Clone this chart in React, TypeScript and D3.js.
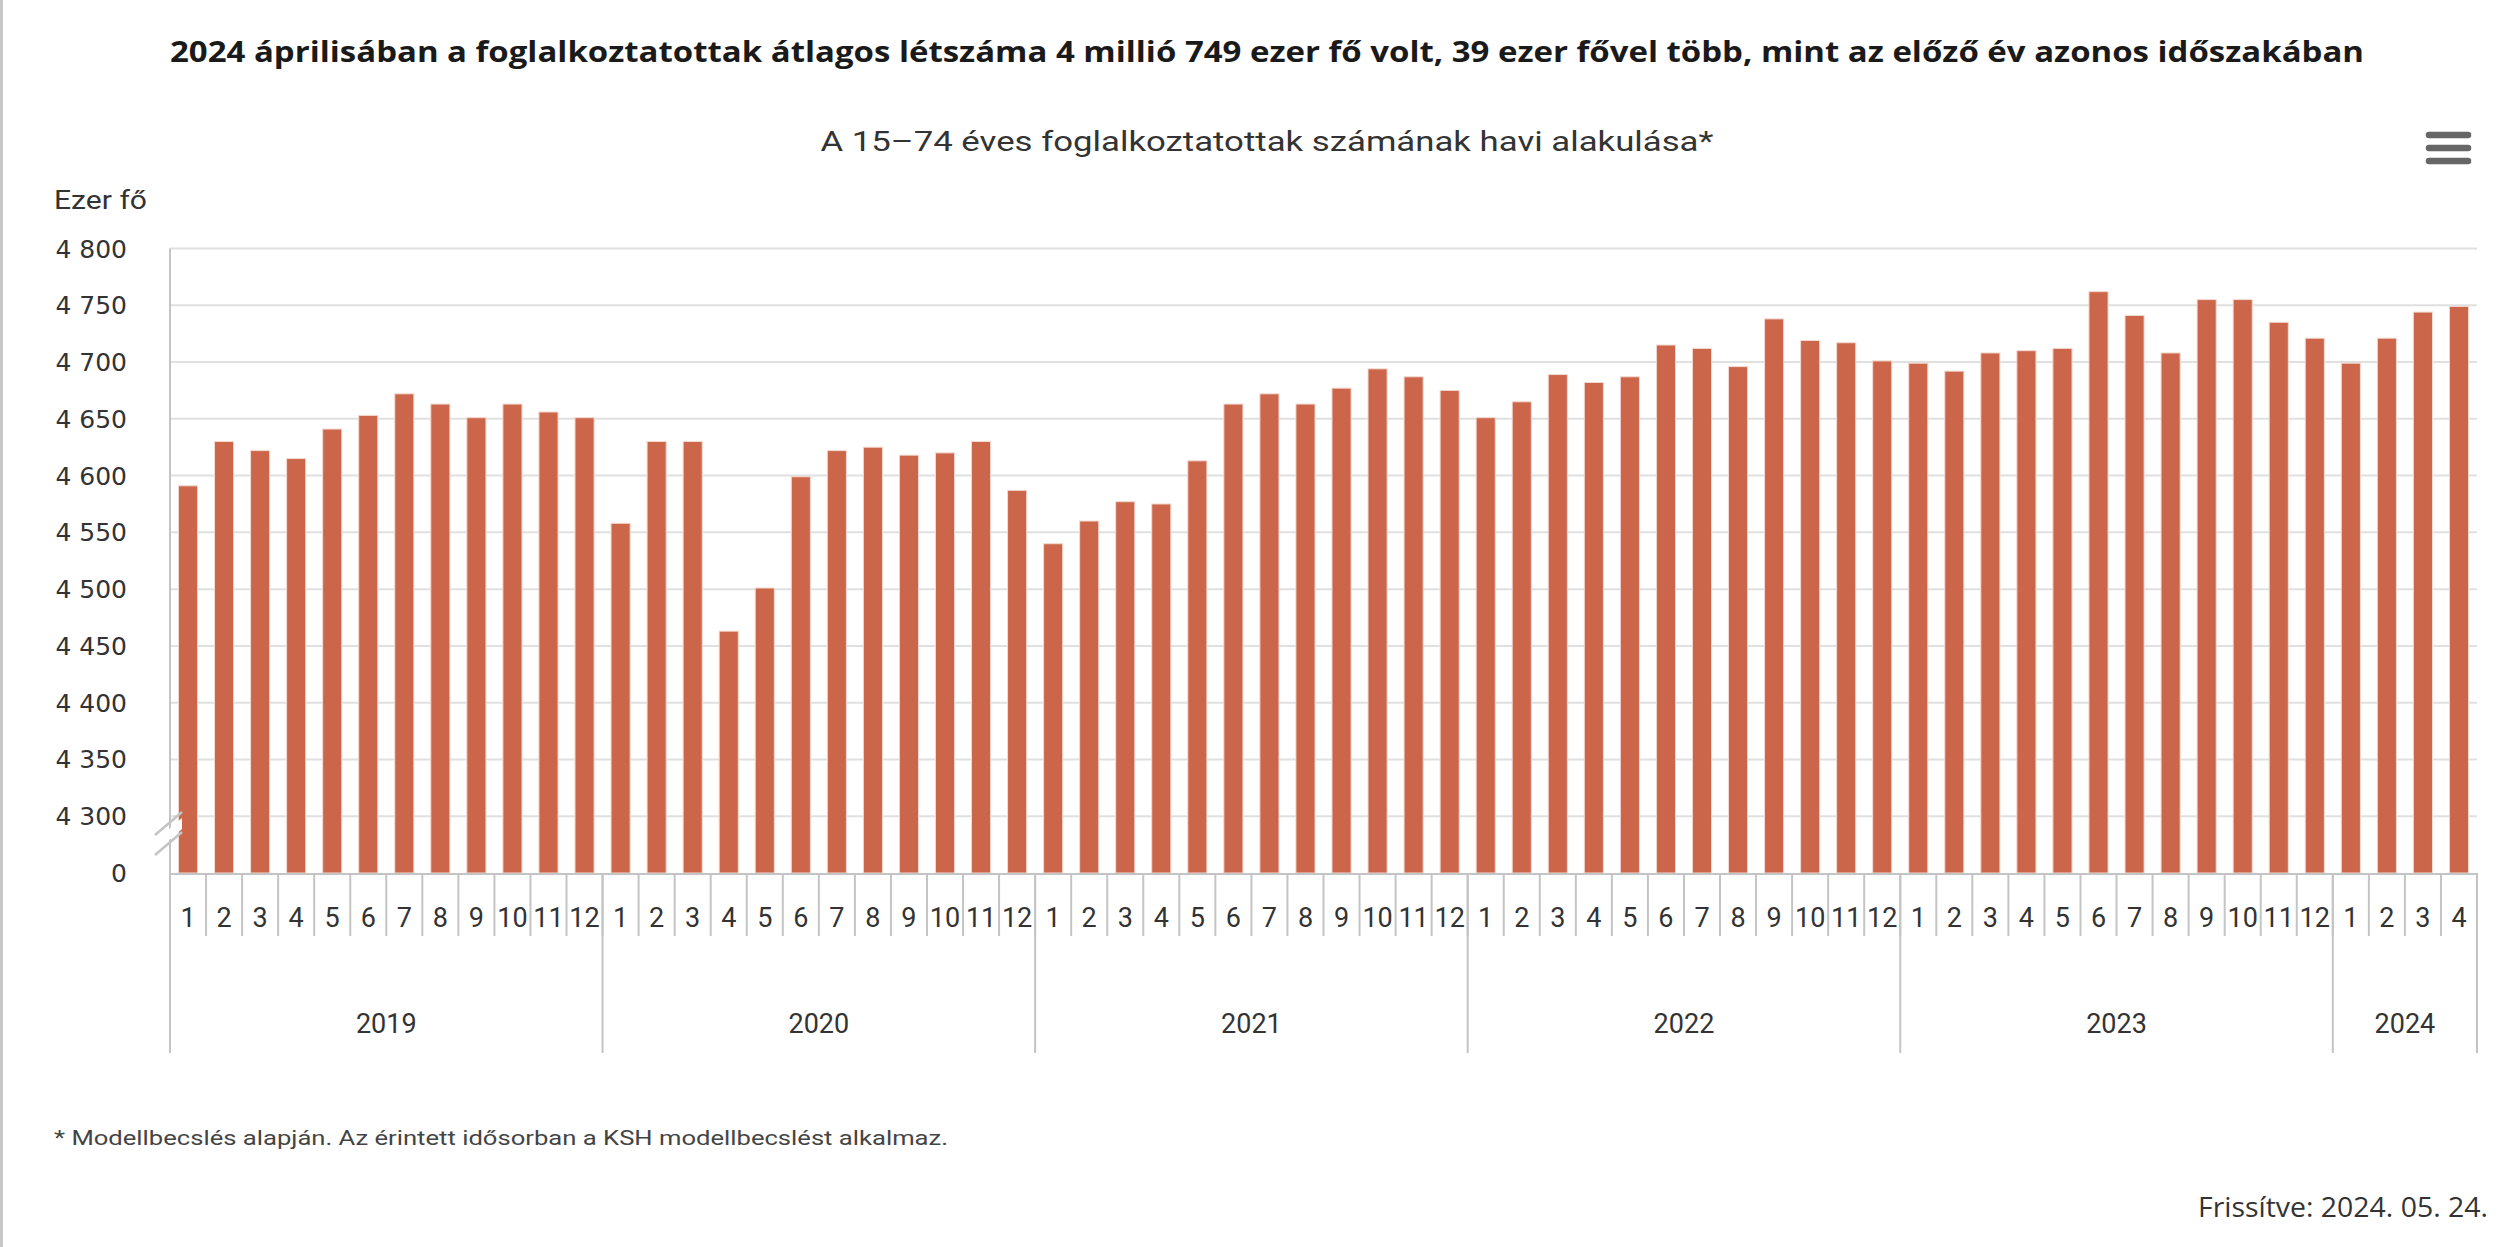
import React from "react";
import * as d3 from "d3";

const years = ["2019", "2020", "2021", "2022", "2023", "2024"];
const v2019 = [4591, 4630, 4622, 4615, 4641, 4653, 4672, 4663, 4651, 4663, 4656, 4651];
const v2020 = [4558, 4630, 4630, 4463, 4501, 4599, 4622, 4625, 4618, 4620, 4630, 4587];
const v2021 = [4540, 4560, 4577, 4575, 4613, 4663, 4672, 4663, 4677, 4694, 4687, 4675];
const v2022 = [4651, 4665, 4689, 4682, 4687, 4715, 4712, 4696, 4738, 4719, 4717, 4701];
const v2023 = [4699, 4692, 4708, 4710, 4712, 4762, 4741, 4708, 4755, 4755, 4735, 4721];
const v2024 = [4699, 4721, 4744, 4749];
const seriesByYear = [v2019, v2020, v2021, v2022, v2023, v2024];
const yTicks = [4300, 4350, 4400, 4450, 4500, 4550, 4600, 4650, 4700, 4750, 4800];
const yBreakValue = 4250; // shown as "0"

const title =
  "2024 áprilisában a foglalkoztatottak átlagos létszáma 4 millió 749 ezer fő volt, 39 ezer fővel több, mint az előző év azonos időszakában";
const subtitle = "A 15–74 éves foglalkoztatottak számának havi alakulása*";
const yUnit = "Ezer fő";
const footnote = "* Modellbecslés alapján. Az érintett idősorban a KSH modellbecslést alkalmaz.";
const updated = "Frissítve: 2024. 05. 24.";

type Pt = { key: string; year: string; month: number; value: number };
const points: Pt[] = [];
seriesByYear.forEach((arr, yi) =>
  arr.forEach((v, mi) => points.push({ key: `${years[yi]}-${mi + 1}`, year: years[yi], month: mi + 1, value: v }))
);

const W = 2498;
const H = 1247;
const left = 170;
const right = 2477;
const top = 248.5;
const base = 873;

const fmt = (v: number) => d3.format(",")(v).replace(/,/g, " ");

export default function App() {
  const x = d3.scaleBand<string>().domain(points.map((p) => p.key)).range([left, right]).padding(0);
  const y = d3.scaleLinear().domain([yBreakValue, 4800]).range([base, top]);
  const bw = x.bandwidth();
  const barW = bw * 0.53;

  const yearBlocks = years.map((yr) => {
    const pts = points.filter((p) => p.year === yr);
    const x0 = x(pts[0].key)!;
    const x1 = x(pts[pts.length - 1].key)! + bw;
    return { yr, x0, x1 };
  });

  const gridColor = "#e0e0e0";
  const axisColor = "#c4c4c4";
  const textColor = "#333333";

  return (
    <svg
      width={W}
      height={H}
      style={{ position: "absolute", left: 0, top: 0, background: "#fff" }}
      xmlns="http://www.w3.org/2000/svg"
    >
      <rect x={0} y={0} width={W} height={H} fill="#ffffff" />
      <line x1={1.5} x2={1.5} y1={0} y2={H} stroke="#c8c8c8" strokeWidth={3} />

      <text
        x={1267}
        y={62}
        textAnchor="middle"
        fontFamily="'Open Sans', sans-serif"
        fontWeight={700}
        fontSize={29}
        fill="#1a1a1a"
        textLength={2194}
        lengthAdjust="spacingAndGlyphs"
      >
        {title}
      </text>
      <text
        x={1267}
        y={151}
        textAnchor="middle"
        fontFamily="Roboto, sans-serif"
        fontSize={27}
        fill={textColor}
        textLength={893}
        lengthAdjust="spacingAndGlyphs"
      >
        {subtitle}
      </text>

      {/* menu icon */}
      {[135, 148, 161].map((yy) => (
        <line key={yy} x1={2429} x2={2468} y1={yy} y2={yy} stroke="#666666" strokeWidth={6.5} strokeLinecap="round" />
      ))}

      <text x={54} y={209} fontFamily="Roboto, sans-serif" fontSize={26} fill={textColor} textLength={93} lengthAdjust="spacingAndGlyphs">
        {yUnit}
      </text>

      {/* gridlines */}
      {yTicks.map((t) => (
        <line key={t} x1={left} x2={right} y1={y(t)} y2={y(t)} stroke={gridColor} strokeWidth={2} />
      ))}

      {/* y tick labels */}
      {yTicks.map((t) => (
        <text
          key={"l" + t}
          x={127}
          y={y(t) + 9}
          textAnchor="end"
          fontFamily="'DejaVu Sans', sans-serif"
          fontSize={25}
          fill={textColor}
        >
          {fmt(t)}
        </text>
      ))}
      <text x={127} y={y(yBreakValue) + 9} textAnchor="end" fontFamily="'DejaVu Sans', sans-serif" fontSize={25} fill={textColor}>
        0
      </text>

      {/* bars */}
      {points.map((p) => (
        <rect
          key={p.key}
          x={x(p.key)! + (bw - barW) / 2}
          y={y(p.value)}
          width={barW}
          height={base - y(p.value)}
          fill="#cc664a"
          stroke="#f3d9d1"
          strokeWidth={1}
        />
      ))}

      {/* y axis line */}
      <line x1={left} x2={left} y1={top} y2={base} stroke={axisColor} strokeWidth={2} />
      {/* axis break */}
      <polygon points="155,841 182,818 182,829 155,852" fill="#ffffff" />
      <line x1={155} y1={835} x2={182} y2={812} stroke={axisColor} strokeWidth={2.5} />
      <line x1={155} y1={855} x2={182} y2={832} stroke={axisColor} strokeWidth={2.5} />

      {/* x axis line */}
      <line x1={left} x2={right} y1={base + 1} y2={base + 1} stroke={axisColor} strokeWidth={2} />

      {/* month ticks */}
      {points.map((p) => (
        <line
          key={"t" + p.key}
          x1={x(p.key)!}
          x2={x(p.key)!}
          y1={base}
          y2={936}
          stroke={axisColor}
          strokeWidth={2}
        />
      ))}
      {/* year separators */}
      {yearBlocks.map((b) => (
        <line key={"ys" + b.yr} x1={b.x0} x2={b.x0} y1={base} y2={1053} stroke={axisColor} strokeWidth={2} />
      ))}
      <line x1={right} x2={right} y1={base} y2={1053} stroke={axisColor} strokeWidth={2} />

      {/* month labels */}
      {points.map((p) => (
        <text
          key={"m" + p.key}
          x={x(p.key)! + bw / 2}
          y={927}
          textAnchor="middle"
          fontFamily="Roboto, sans-serif"
          fontSize={27}
          fill={textColor}
        >
          {p.month}
        </text>
      ))}
      {/* year labels */}
      {yearBlocks.map((b) => (
        <text
          key={"yl" + b.yr}
          x={(b.x0 + b.x1) / 2}
          y={1033}
          textAnchor="middle"
          fontFamily="Roboto, sans-serif"
          fontSize={27}
          fill={textColor}
        >
          {b.yr}
        </text>
      ))}

      <text x={54} y={1145} fontFamily="Roboto, sans-serif" fontSize={21} fill="#444444" textLength={894} lengthAdjust="spacingAndGlyphs">
        {footnote}
      </text>
      <text
        x={2488}
        y={1217}
        textAnchor="end"
        fontFamily="'Open Sans', sans-serif"
        fontSize={27}
        fill={textColor}
        textLength={290}
        lengthAdjust="spacingAndGlyphs"
      >
        {updated}
      </text>
    </svg>
  );
}
